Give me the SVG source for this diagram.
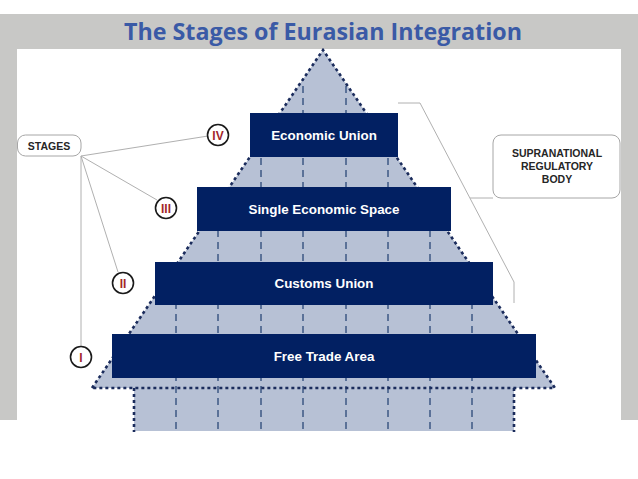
<svg xmlns="http://www.w3.org/2000/svg" width="638" height="479" viewBox="0 0 638 479">
<defs>
<style>
.bar{fill:#022062;}
.bartxt{font-family:"Liberation Sans",Arial,sans-serif;font-weight:bold;font-size:13.4px;fill:#ffffff;text-anchor:middle;}
.circ{fill:#ffffff;stroke:#1a1a1a;stroke-width:1.6;}
.num{font-family:"Liberation Sans",Arial,sans-serif;font-weight:bold;font-size:12px;fill:#a3262a;text-anchor:middle;}
.lbl{font-family:"Liberation Sans",Arial,sans-serif;font-weight:bold;font-size:10.5px;fill:#262626;text-anchor:middle;}
.box{fill:#ffffff;stroke:#a6a6a6;stroke-width:1;}
.conn{fill:none;stroke:#b0b0b0;stroke-width:1;}
.dot{fill:none;stroke:#1b2c5c;stroke-width:2.6;stroke-dasharray:3 3;}
.vdash{fill:none;stroke:#34507e;stroke-width:1.4;stroke-dasharray:7 5;}
</style>
<clipPath id="pyrclip">
<polygon points="323,50 555,388 514,388 514,432 134,432 134,388 92,388"/>
</clipPath>
</defs>
<rect x="0" y="0" width="638" height="479" fill="#ffffff"/>
<rect x="0" y="14" width="638" height="406" fill="#c8c8c6"/>
<rect x="17" y="49" width="604" height="371" fill="#ffffff"/>
<text x="323" y="40" font-family="'Open Sans','Liberation Sans',sans-serif" font-weight="bold" font-size="23" fill="#3a5aa6" text-anchor="middle" textLength="398" lengthAdjust="spacingAndGlyphs">The Stages of Eurasian Integration</text>

<g id="pyramid">
<polygon points="323,50 555,388 92,388" fill="#b7c1d5"/>
<rect x="134" y="388" width="380" height="43" fill="#b7c1d5"/>
<g clip-path="url(#pyrclip)">
<path class="vdash" d="M176,50V432M218,50V432M261,50V432M303,50V432M346,50V432M388,50V432M430,50V432M472,50V432"/>
</g>
<path class="dot" d="M92,388L323,50L555,388Z"/>
<path class="dot" d="M134,388V432M514,388V432"/>
</g>

<g id="connectors">
<path class="conn" d="M81,156L208,136"/>
<path class="conn" d="M81,156L157,200"/>
<path class="conn" d="M81,156L118,272"/>
<path class="conn" d="M81,156V346"/>
<path class="conn" d="M398,103H420L514,282V303"/>
<path class="conn" d="M470,198H493"/>
</g>

<g id="economic-union">
<rect class="bar" x="250" y="113" width="148" height="44"/>
<text class="bartxt" x="324" y="140">Economic Union</text>
</g>
<g id="single-economic-space">
<rect class="bar" x="197" y="187" width="254" height="44"/>
<text class="bartxt" x="324" y="214">Single Economic Space</text>
</g>
<g id="customs-union">
<rect class="bar" x="155" y="262" width="338" height="43"/>
<text class="bartxt" x="324" y="288">Customs Union</text>
</g>
<g id="free-trade-area">
<rect class="bar" x="112" y="334" width="424" height="44"/>
<text class="bartxt" x="324" y="361">Free Trade Area</text>
</g>

<g id="stages">
<rect class="box" x="17.5" y="135" width="63.5" height="21" rx="8"/>
<text class="lbl" x="49" y="149.5">STAGES</text>
</g>
<g id="supranational">
<rect class="box" x="493" y="135" width="127" height="63" rx="8"/>
<text class="lbl" x="557" y="157">SUPRANATIONAL</text>
<text class="lbl" x="557" y="170">REGULATORY</text>
<text class="lbl" x="557" y="183">BODY</text>
</g>

<g id="stage-iv">
<circle class="circ" cx="218" cy="135" r="10.5"/>
<text class="num" x="218" y="139.5">IV</text>
</g>
<g id="stage-iii">
<circle class="circ" cx="166" cy="208" r="10.5"/>
<text class="num" x="166" y="212.5">III</text>
</g>
<g id="stage-ii">
<circle class="circ" cx="123" cy="283" r="10.5"/>
<text class="num" x="123" y="287.5">II</text>
</g>
<g id="stage-i">
<circle class="circ" cx="81" cy="357" r="10.5"/>
<text class="num" x="81" y="361.5">I</text>
</g>
</svg>
